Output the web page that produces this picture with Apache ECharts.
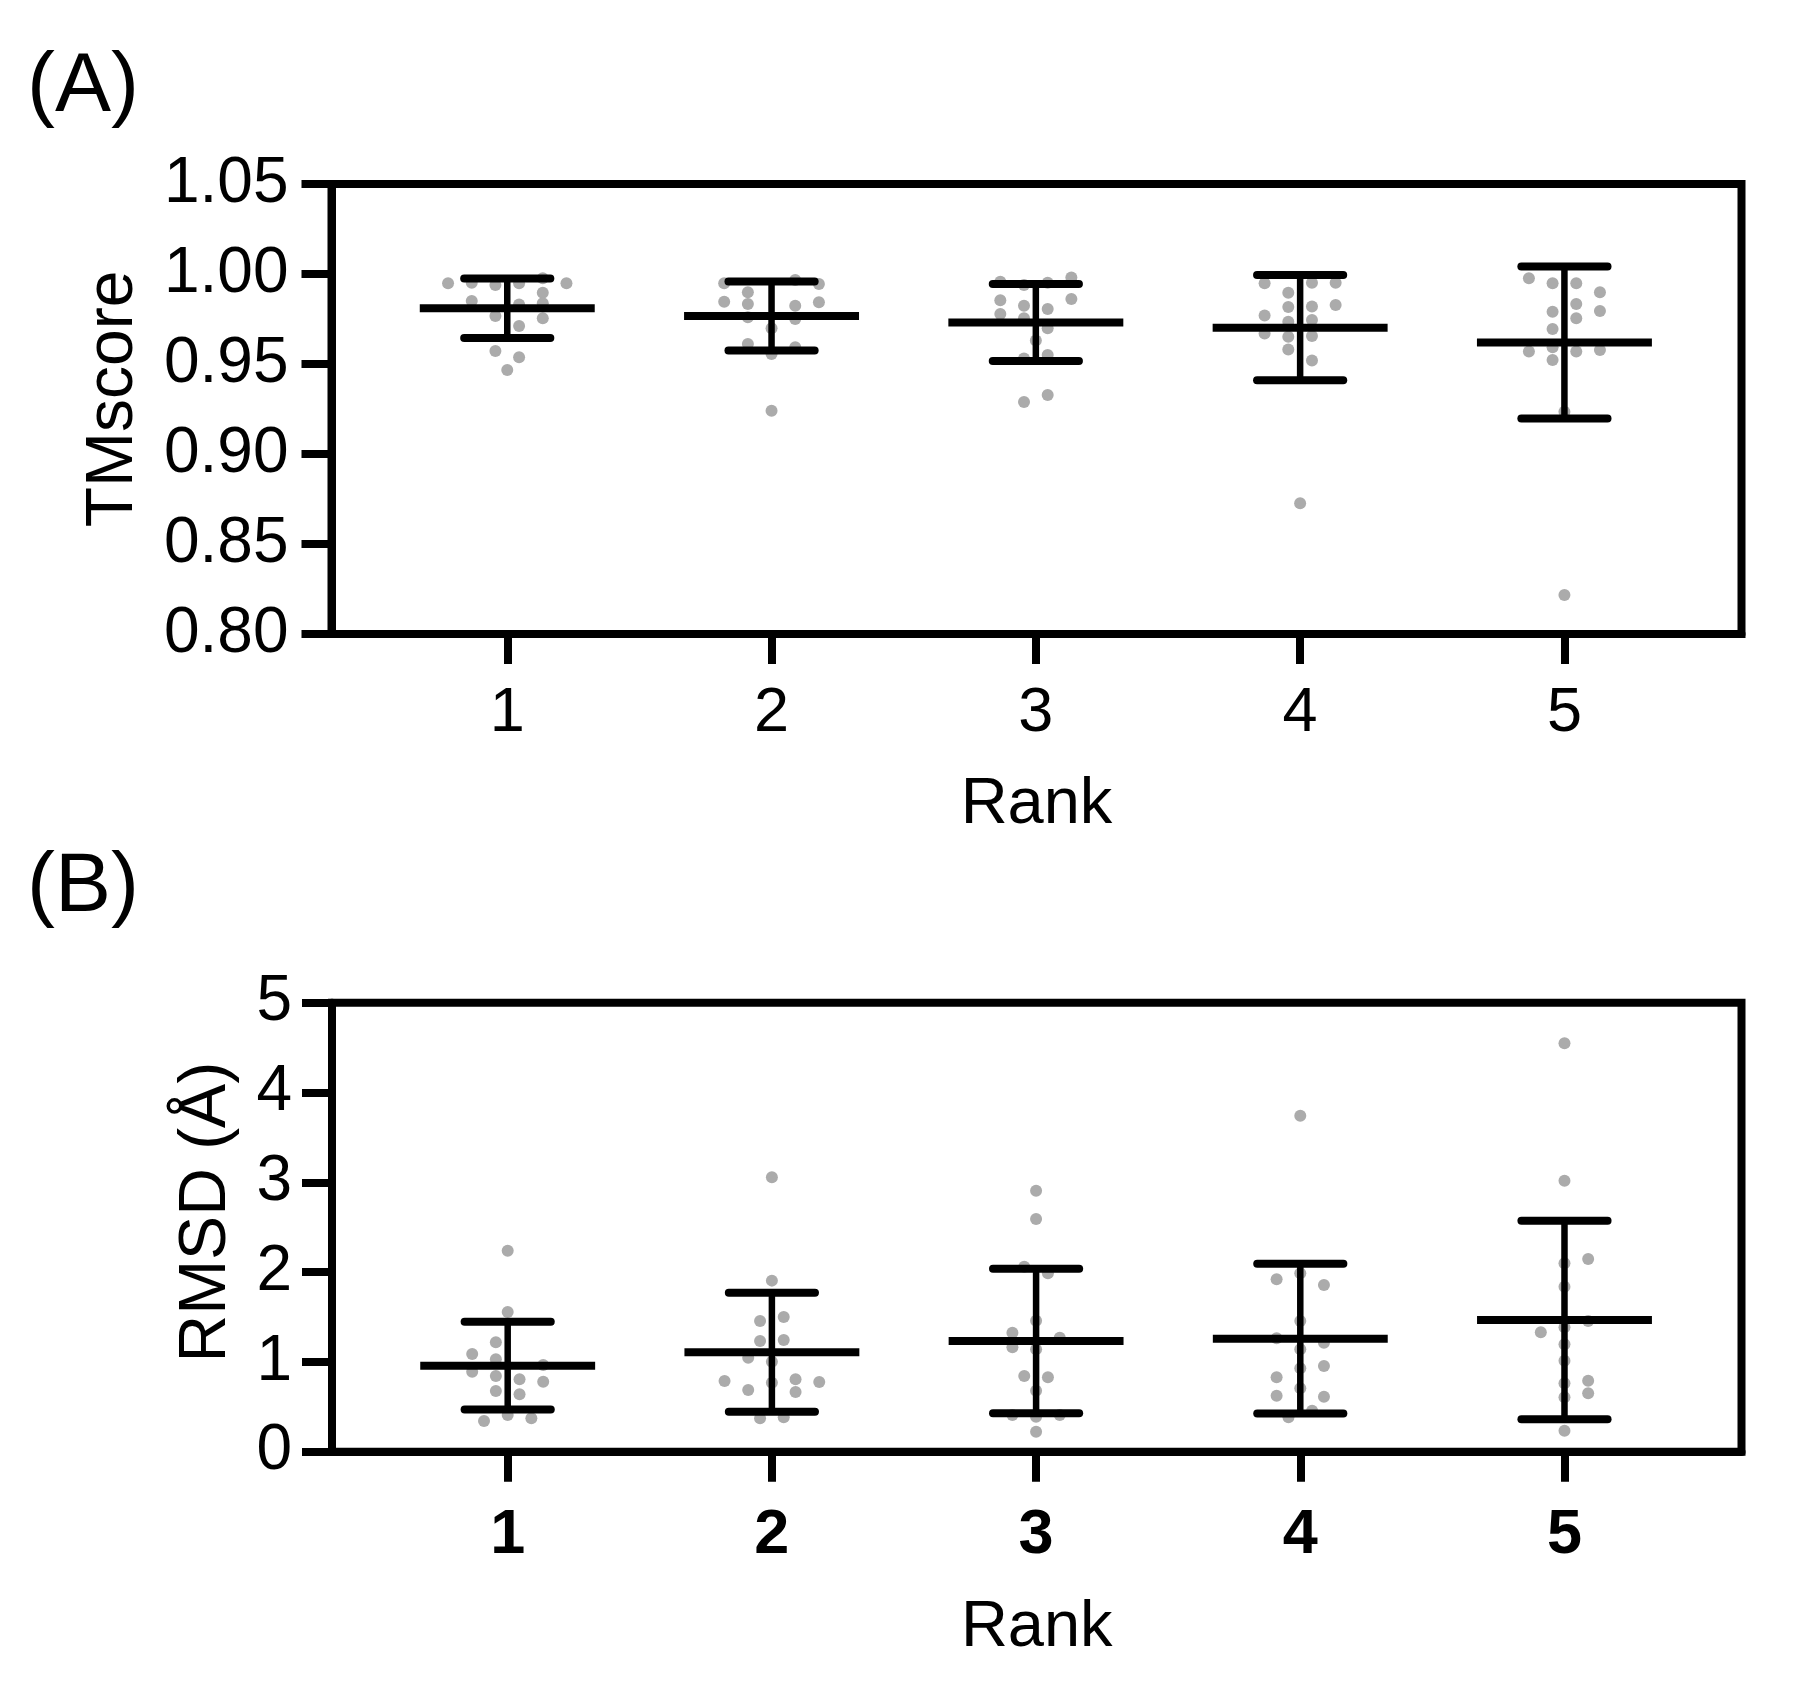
<!DOCTYPE html>
<html>
<head>
<meta charset="utf-8">
<script src="https://cdn.jsdelivr.net/npm/echarts@6/dist/echarts.min.js"></script>
<style>
html,body{margin:0;padding:0;background:#fff;}
#chart{width:1795px;height:1681px;}
</style>
</head>
<body>
<div id="chart"></div>
<script>
// ---------------- data ----------------
const ranks = [1, 2, 3, 4, 5];
const rankLabels = ['1', '2', '3', '4', '5'];

// Panel A: TMscore
const tmMean = [0.981, 0.9767, 0.973, 0.9702, 0.9619];
const tmSD = [0.0165, 0.0192, 0.0214, 0.0292, 0.0422];
const tmScores = [
  [0.9948, 0.9952, 0.9939, 0.9948, 0.9976, 0.9948, 0.9896, 0.985, 0.9831, 0.9837, 0.9767, 0.9754, 0.9711, 0.9572, 0.9537, 0.9467],
  [0.9948, 0.9967, 0.9944, 0.9898, 0.9846, 0.9833, 0.9824, 0.9843, 0.976, 0.975, 0.9698, 0.9611, 0.9593, 0.9556, 0.924],
  [0.9957, 0.9939, 0.9952, 0.9981, 0.9854, 0.9824, 0.9806, 0.9861, 0.9778, 0.9754, 0.9698, 0.963, 0.9531, 0.955, 0.9289, 0.9328],
  [0.9948, 0.9952, 0.9952, 0.9896, 0.9817, 0.9819, 0.9828, 0.977, 0.9735, 0.9744, 0.967, 0.9652, 0.9656, 0.9581, 0.9519, 0.8726],
  [0.9976, 0.9948, 0.9948, 0.9898, 0.9833, 0.979, 0.9794, 0.9754, 0.9694, 0.9569, 0.9593, 0.9569, 0.9578, 0.9522, 0.9235, 0.8217]
];
// swarm slot of each dot (half dot-width units, left negative)
const tmSwarm = [
  [-5, -3, -1, 1, 3, 5, 3, -3, 1, 3, -1, 3, 1, -1, 1, 0],
  [-4, 2, 4, -2, -4, -2, 2, 4, -2, 2, 0, -2, 2, 0, 0],
  [-3, -1, 1, 3, -3, -1, 1, 3, -3, -1, 1, 0, -1, 1, -1, 1],
  [-3, 1, 3, -1, -1, 1, 3, -3, -1, 1, -3, -1, 1, -1, 1, 0],
  [-3, -1, 1, 3, 1, -1, 3, 1, -1, -3, -1, 1, 3, -1, 0, 0]
];

// Panel B: RMSD (Å)
const rmsdMean = [0.958, 1.107, 1.233, 1.259, 1.467];
const rmsdSD = [0.488, 0.6625, 0.8055, 0.835, 1.1045];
const rmsdValues = [
  [2.238, 1.556, 1.218, 1.088, 1.029, 0.965, 0.891, 0.843, 0.806, 0.780, 0.676, 0.639, 0.409, 0.342, 0.372],
  [3.056, 1.905, 1.455, 1.5, 1.233, 1.244, 1.047, 1.002, 0.787, 0.687, 0.768, 0.806, 0.776, 0.665, 0.372, 0.383],
  [2.907, 2.591, 2.06, 1.987, 1.459, 1.325, 1.27, 1.163, 1.14, 0.843, 0.828, 0.679, 0.409, 0.39, 0.409, 0.223],
  [3.742, 1.92, 1.987, 1.856, 1.455, 1.263, 1.214, 1.14, 0.954, 0.928, 0.828, 0.624, 0.706, 0.612, 0.457, 0.383],
  [4.548, 3.018, 2.098, 2.146, 1.838, 1.455, 1.329, 1.385, 1.196, 1.013, 0.791, 0.65, 0.761, 0.606, 0.234]
];
const rmsdSwarm = [
  [0, 0, -1, -3, -1, 3, -3, -1, 1, 3, -1, 1, 0, -2, 2],
  [0, 0, -1, 1, -1, 1, -2, 0, -4, -2, 0, 2, 4, 2, -1, 1],
  [0, 0, -1, 1, 0, -2, 2, -2, 0, -1, 1, 0, -2, 0, 2, 0],
  [0, -2, 0, 2, 0, -2, 2, 0, 2, 0, -2, -2, 0, 2, 1, -1],
  [0, 0, 0, 2, 0, 2, -2, 0, 0, 0, 2, 2, 0, 0, 0]
];

// ---------------- styling constants ----------------
const FONT = '"Liberation Sans", Arial, Helvetica, sans-serif';
const DOT_STEP = 0.0448;   // x-units per swarm slot
const MEAN_HALF = 0.331;   // half length of mean bar (x-units)
const CAP_HALF = 0.163;    // half length of SD caps (x-units)
const X_MIN = 0.335, X_MAX = 5.67;
const LINE_W = 8;

function swarmData(values, swarm) {
  const out = [];
  values.forEach((grp, i) => {
    grp.forEach((v, j) => out.push([ranks[i] + swarm[i][j] * DOT_STEP, v]));
  });
  return out;
}

function errRender(params, api) {
  const x = api.value(0), m = api.value(1), s = api.value(2);
  const a = api.coord([x - MEAN_HALF, m]), b = api.coord([x + MEAN_HALF, m]);
  const t = api.coord([x, m + s]), d = api.coord([x, m - s]);
  const t1 = api.coord([x - CAP_HALF, m + s]), t2 = api.coord([x + CAP_HALF, m + s]);
  const d1 = api.coord([x - CAP_HALF, m - s]), d2 = api.coord([x + CAP_HALF, m - s]);
  const st = (w, cap) => ({ stroke: '#000', lineWidth: w, lineCap: cap, fill: null });
  return {
    type: 'group',
    children: [
      { type: 'line', shape: { x1: t[0], y1: t[1], x2: d[0], y2: d[1] }, style: st(6.5, 'butt') },
      { type: 'line', shape: { x1: a[0], y1: a[1], x2: b[0], y2: b[1] }, style: st(8, 'butt') },
      { type: 'line', shape: { x1: t1[0], y1: t1[1], x2: t2[0], y2: t2[1] }, style: st(8, 'round') },
      { type: 'line', shape: { x1: d1[0], y1: d1[1], x2: d2[0], y2: d2[1] }, style: st(8, 'round') }
    ]
  };
}

function xAxisCfg(gridIndex, bold, labelMargin, nameGap) {
  return {
    type: 'value', gridIndex: gridIndex, min: X_MIN, max: X_MAX,
    name: 'Rank', nameLocation: 'middle', nameGap: nameGap,
    nameTextStyle: { fontSize: 65, color: '#000', fontFamily: FONT },
    axisLine: { show: true, onZero: false, lineStyle: { color: '#000', width: LINE_W } },
    axisTick: { show: true, customValues: ranks, length: 30, lineStyle: { color: '#000', width: LINE_W } },
    axisLabel: {
      customValues: ranks, margin: labelMargin, fontSize: 63, color: '#000', fontFamily: FONT,
      fontWeight: bold ? 'bold' : 'normal',
      formatter: v => rankLabels[ranks.indexOf(Math.round(v))]
    },
    splitLine: { show: false }
  };
}

function yAxisCfg(gridIndex, name, min, max, interval, digits, nameGap, labelMargin, namePad) {
  return {
    type: 'value', gridIndex: gridIndex, min: min, max: max, interval: interval,
    name: name, nameLocation: 'middle', nameGap: nameGap, nameRotate: 90,
    nameTextStyle: { fontSize: 66, color: '#000', fontFamily: FONT, padding: [0, 0, 0, namePad] },
    axisLine: { show: true, onZero: false, lineStyle: { color: '#000', width: LINE_W } },
    axisTick: { show: true, length: 30, lineStyle: { color: '#000', width: LINE_W } },
    axisLabel: { margin: labelMargin, fontSize: 64, color: '#000', fontFamily: FONT, formatter: v => v.toFixed(digits) },
    splitLine: { show: false }
  };
}

const chart = echarts.init(document.getElementById('chart'), null, { renderer: 'canvas' });
chart.setOption({
  animation: false,
  backgroundColor: '#fff',
  title: [
    { text: '(A)', left: 27, top: 46, padding: 0, textStyle: { fontSize: 84, fontWeight: 'normal', color: '#000', fontFamily: FONT } },
    { text: '(B)', left: 27, top: 846, padding: 0, textStyle: { fontSize: 84, fontWeight: 'normal', color: '#000', fontFamily: FONT } }
  ],
  grid: [
    { left: 331.5, right: 53.5, top: 184, height: 450, show: true, borderColor: '#000', borderWidth: LINE_W, backgroundColor: 'transparent', outerBoundsMode: 'none' },
    { left: 332, right: 53.5, top: 1002.7, height: 449, show: true, borderColor: '#000', borderWidth: LINE_W, backgroundColor: 'transparent', outerBoundsMode: 'none' }
  ],
  xAxis: [xAxisCfg(0, false, 48, 139), xAxisCfg(1, true, 52, 144)],
  yAxis: [
    yAxisCfg(0, 'TMscore', 0.80, 1.05, 0.05, 2, 185, 43, 20),
    yAxisCfg(1, 'RMSD (Å)', 0, 5, 1, 0, 92, 40, 30)
  ],
  series: [
    { type: 'scatter', xAxisIndex: 0, yAxisIndex: 0, data: swarmData(tmScores, tmSwarm), symbolSize: 12, itemStyle: { color: '#ababab', opacity: 1 }, z: 2, silent: true },
    { type: 'custom', xAxisIndex: 0, yAxisIndex: 0, data: ranks.map((r, i) => [r, tmMean[i], tmSD[i]]), renderItem: errRender, encode: { x: 0, y: 1 }, z: 3, silent: true },
    { type: 'scatter', xAxisIndex: 1, yAxisIndex: 1, data: swarmData(rmsdValues, rmsdSwarm), symbolSize: 12, itemStyle: { color: '#ababab', opacity: 1 }, z: 2, silent: true },
    { type: 'custom', xAxisIndex: 1, yAxisIndex: 1, data: ranks.map((r, i) => [r, rmsdMean[i], rmsdSD[i]]), renderItem: errRender, encode: { x: 0, y: 1 }, z: 3, silent: true }
  ]
});
</script>
</body>
</html>
